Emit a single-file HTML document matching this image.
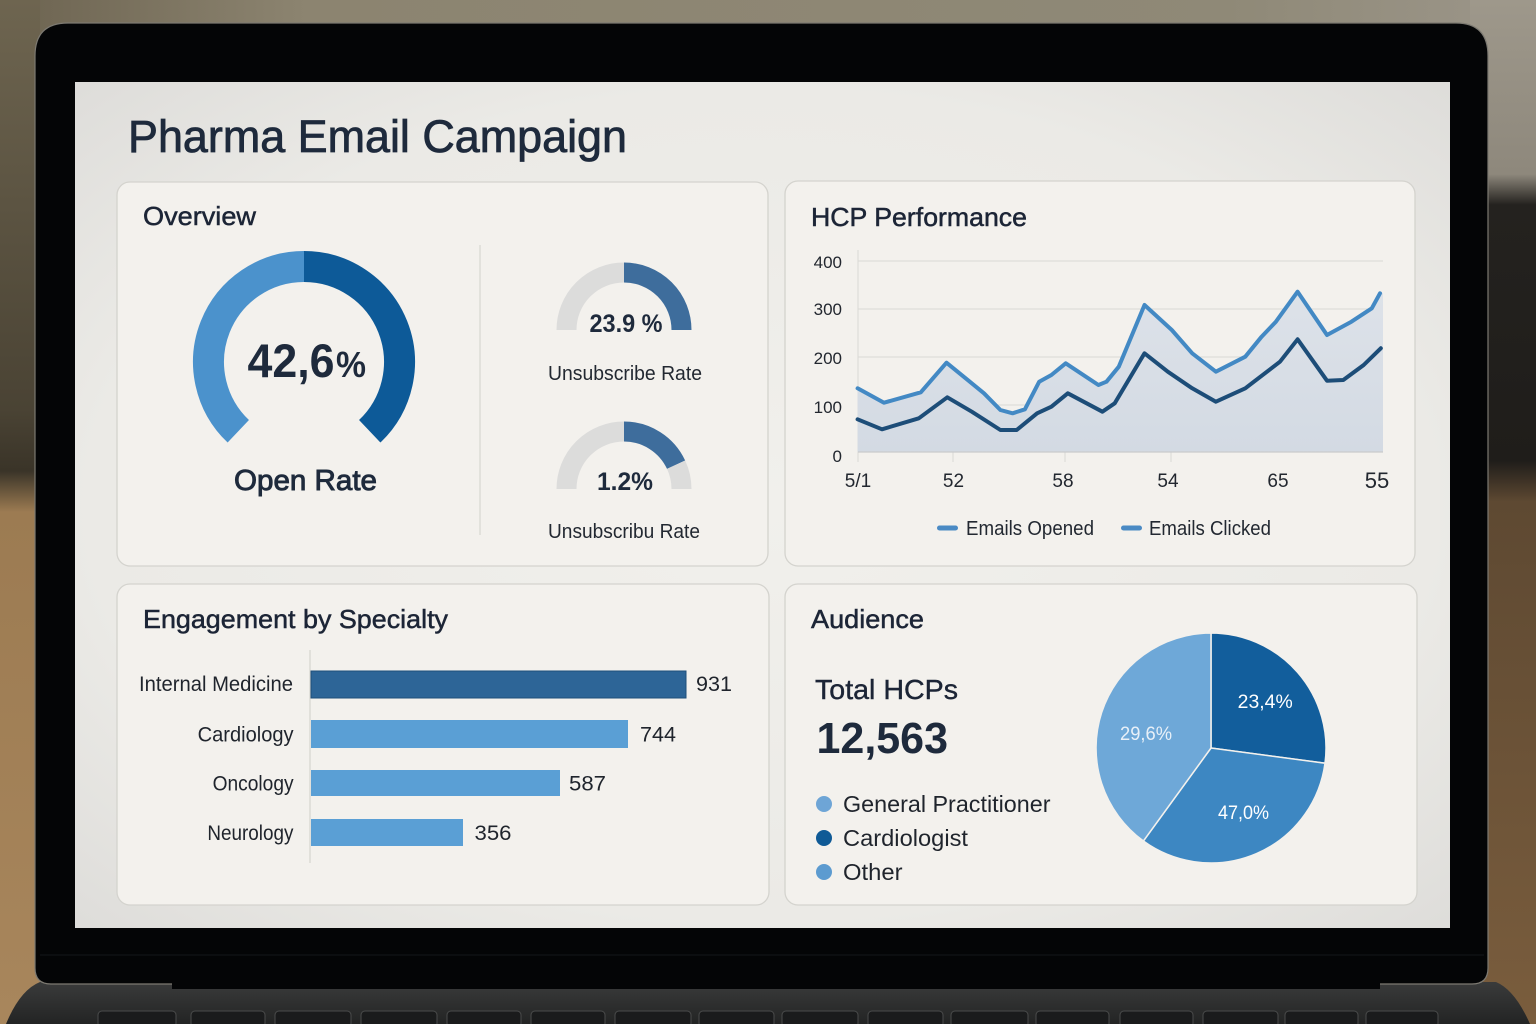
<!DOCTYPE html>
<html><head><meta charset="utf-8"><style>
html,body{margin:0;padding:0;width:1536px;height:1024px;overflow:hidden;background:#6f6650;}
svg{display:block;}
text{font-family:"Liberation Sans",Arial,sans-serif;}
</style></head><body>
<svg width="1536" height="1024" viewBox="0 0 1536 1024" xmlns="http://www.w3.org/2000/svg">
<defs>
<linearGradient id="bgL" x1="0" y1="0" x2="0" y2="1">
<stop offset="0" stop-color="#6e6550"/><stop offset="0.4" stop-color="#4a4334"/><stop offset="0.46" stop-color="#3a3428"/><stop offset="0.5" stop-color="#9c7b52"/><stop offset="1" stop-color="#a8865c"/></linearGradient>
<linearGradient id="bgR" x1="0" y1="0" x2="0" y2="1">
<stop offset="0" stop-color="#9e988b"/><stop offset="0.17" stop-color="#8e887c"/><stop offset="0.2" stop-color="#24221f"/><stop offset="0.45" stop-color="#1f1d1a"/><stop offset="0.49" stop-color="#5e4932"/><stop offset="1" stop-color="#7a5d3d"/></linearGradient>
<linearGradient id="bgT" x1="0" y1="0" x2="1" y2="0">
<stop offset="0" stop-color="#6c6350"/><stop offset="0.2" stop-color="#8c8470"/><stop offset="0.8" stop-color="#8f8977"/><stop offset="1" stop-color="#9c968a"/></linearGradient>
<radialGradient id="scr" cx="0.5" cy="0.5" r="0.7">
<stop offset="0" stop-color="#f1f0ec"/><stop offset="0.7" stop-color="#ebeae6"/><stop offset="1" stop-color="#dedddA"/></radialGradient>
<linearGradient id="area" x1="0" y1="0" x2="0" y2="1">
<stop offset="0" stop-color="#dde2e9"/><stop offset="1" stop-color="#d3dae3"/></linearGradient>
<linearGradient id="base" x1="0" y1="0" x2="0" y2="1">
<stop offset="0" stop-color="#3a3b3b"/><stop offset="1" stop-color="#232424"/></linearGradient>
</defs>

<!-- background -->
<rect x="0" y="0" width="1536" height="1024" fill="url(#bgL)"/>
<rect x="0" y="0" width="1536" height="60" fill="url(#bgT)"/>
<rect x="1470" y="0" width="66" height="1024" fill="url(#bgR)"/>
<rect x="0" y="0" width="40" height="1024" fill="url(#bgL)"/>

<!-- base -->
<path d="M40 982 L1496 982 Q1515 990 1530 1024 L6 1024 Q20 990 40 982 Z" fill="url(#base)"/>
<g fill="#1a1b1c" stroke="#4a4b4b" stroke-width="1">
<rect x="98" y="1011" width="78" height="16" rx="4"/>
<rect x="191" y="1011" width="74" height="16" rx="4"/>
<rect x="275" y="1011" width="76" height="16" rx="4"/>
<rect x="361" y="1011" width="76" height="16" rx="4"/>
<rect x="447" y="1011" width="74" height="16" rx="4"/>
<rect x="531" y="1011" width="74" height="16" rx="4"/>
<rect x="615" y="1011" width="76" height="16" rx="4"/>
<rect x="699" y="1011" width="75" height="16" rx="4"/>
<rect x="782" y="1011" width="76" height="16" rx="4"/>
<rect x="868" y="1011" width="75" height="16" rx="4"/>
<rect x="951" y="1011" width="77" height="16" rx="4"/>
<rect x="1036" y="1011" width="73" height="16" rx="4"/>
<rect x="1120" y="1011" width="73" height="16" rx="4"/>
<rect x="1203" y="1011" width="75" height="16" rx="4"/>
<rect x="1285" y="1011" width="73" height="16" rx="4"/>
<rect x="1366" y="1011" width="72" height="16" rx="4"/>
</g>

<!-- lid -->
<path d="M35 56 Q35 23 68 23 L1456 23 Q1488 23 1488 56 L1488 968 Q1488 984 1472 984 L51 984 Q35 984 35 968 Z" fill="#040506" stroke="#7d7a72" stroke-width="1.2"/>
<rect x="172" y="980" width="1208" height="9" fill="#040506"/>
<line x1="40" y1="955" x2="1484" y2="955" stroke="#15171a" stroke-width="1"/>

<!-- screen -->
<rect x="75" y="82" width="1375" height="846" fill="url(#scr)"/>

<!-- title -->
<text x="128" y="152" font-size="45" textLength="499" lengthAdjust="spacingAndGlyphs" fill="#1e2a3c" stroke="#1e2a3c" stroke-width="0.8">Pharma Email Campaign</text>

<!-- cards -->
<g fill="#f3f1ed" stroke="#d4d3ce" stroke-width="1.3">
<rect x="117" y="182" width="651" height="384" rx="13"/>
<rect x="785" y="181" width="630" height="385" rx="13"/>
<rect x="117" y="584" width="652" height="321" rx="13"/>
<rect x="785" y="584" width="632" height="321" rx="13"/>
</g>

<!-- Overview -->
<text x="143" y="225" font-size="26" textLength="113" lengthAdjust="spacingAndGlyphs" fill="#1c2536" stroke="#1c2536" stroke-width="0.5">Overview</text>
<path d="M238.3 431.3 A95.5 95.5 0 0 1 304 266.5" fill="none" stroke="#4b92cc" stroke-width="31"/>
<path d="M304 266.5 A95.5 95.5 0 0 1 369.7 431.3" fill="none" stroke="#0d5a98" stroke-width="31"/>
<text x="247.5" y="377" font-size="47" font-weight="bold" textLength="87" lengthAdjust="spacingAndGlyphs" fill="#1e2a3c">42,6</text>
<text x="336" y="377" font-size="36" font-weight="bold" textLength="30" lengthAdjust="spacingAndGlyphs" fill="#1e2a3c">%</text>
<text x="234" y="490" font-size="29" textLength="143" lengthAdjust="spacingAndGlyphs" fill="#1e2a3c" stroke="#1e2a3c" stroke-width="0.9">Open Rate</text>

<line x1="480" y1="245" x2="480" y2="535" stroke="#d8d7d2" stroke-width="1.2"/>

<path d="M566.5 330 A57.5 57.5 0 0 1 624 272.5" fill="none" stroke="#dcdcdb" stroke-width="20"/>
<path d="M624 272.5 A57.5 57.5 0 0 1 681.5 330" fill="none" stroke="#3e6d9c" stroke-width="20"/>
<text x="589.5" y="332" font-size="25" font-weight="bold" textLength="73" lengthAdjust="spacingAndGlyphs" fill="#1e2a3c">23.9 %</text>
<text x="548" y="380" font-size="20" textLength="154" lengthAdjust="spacingAndGlyphs" fill="#222831">Unsubscribe Rate</text>

<path d="M566.5 489 A57.5 57.5 0 0 1 624 431.5" fill="none" stroke="#dcdcdb" stroke-width="20"/>
<path d="M624 431.5 A57.5 57.5 0 0 1 676.1 464.7" fill="none" stroke="#3e6d9c" stroke-width="20"/>
<path d="M676.1 464.7 A57.5 57.5 0 0 1 681.5 489" fill="none" stroke="#dcdcdb" stroke-width="20"/>
<text x="597" y="490" font-size="25" font-weight="bold" textLength="56" lengthAdjust="spacingAndGlyphs" fill="#1e2a3c">1.2%</text>
<text x="548" y="538" font-size="20" textLength="152" lengthAdjust="spacingAndGlyphs" fill="#222831">Unsubscribu Rate</text>

<!-- HCP Performance -->
<text x="811" y="226" font-size="26" textLength="216" lengthAdjust="spacingAndGlyphs" fill="#1c2536" stroke="#1c2536" stroke-width="0.5">HCP Performance</text>
<g stroke="#d9d9d5" stroke-width="1">
<line x1="858" y1="261" x2="1383" y2="261"/>
<line x1="858" y1="309" x2="1383" y2="309"/>
<line x1="858" y1="357" x2="1383" y2="357"/>
<line x1="858" y1="405" x2="1383" y2="405"/>
<line x1="858" y1="250" x2="858" y2="462"/>
<line x1="953" y1="445" x2="953" y2="462"/>
<line x1="1065" y1="445" x2="1065" y2="462"/>
<line x1="1171" y1="445" x2="1171" y2="462"/>
</g>
<polygon fill="url(#area)" points="857.6,388.3 884,402.7 920.8,392.3 946.5,362.7 969.8,381.7 984,393.3 1000.4,410 1012.6,413.3 1024.9,409.3 1039.2,381.7 1051.4,375 1065.7,363.3 1098.4,385 1106.5,381.7 1118.8,366.7 1144.5,305 1171.8,330 1192.2,353.3 1215.9,371.7 1245.3,356.7 1261.6,336.7 1275.9,321.7 1297.6,291.7 1327,335 1351.4,321.7 1371.8,308.3 1380,293.3 1383,293.3 1383,452 857.6,452"/>
<line x1="858" y1="452" x2="1383" y2="452" stroke="#c9cbcc" stroke-width="1.2"/>
<polyline fill="none" stroke="#4389c4" stroke-width="4" stroke-linejoin="round" stroke-linecap="round" points="857.6,388.3 884,402.7 920.8,392.3 946.5,362.7 969.8,381.7 984,393.3 1000.4,410 1012.6,413.3 1024.9,409.3 1039.2,381.7 1051.4,375 1065.7,363.3 1098.4,385 1106.5,381.7 1118.8,366.7 1144.5,305 1171.8,330 1192.2,353.3 1215.9,371.7 1245.3,356.7 1261.6,336.7 1275.9,321.7 1297.6,291.7 1327,335 1351.4,321.7 1371.8,308.3 1380,293.3"/>
<polyline fill="none" stroke="#1d4d78" stroke-width="4" stroke-linejoin="round" stroke-linecap="round" points="857.6,419.3 882,429.3 918.8,418.3 947.3,397.3 971.8,411.7 1000.4,430 1016.7,430 1037.1,413.3 1051.4,406.7 1067.8,393.3 1102.4,411.7 1114.7,403.3 1144.5,353.3 1167.8,371.7 1192.2,388.3 1215.9,401.7 1245.3,388.3 1280,361.7 1297.6,339.3 1327,380.7 1343.3,380 1363.7,365 1380.8,348.3"/>
<g font-size="17" fill="#22272f" text-anchor="end">
<text x="842" y="268">400</text>
<text x="842" y="315">300</text>
<text x="842" y="364">200</text>
<text x="842" y="413">100</text>
<text x="842" y="462">0</text>
</g>
<g font-size="19" fill="#22272f" text-anchor="middle">
<text x="858" y="487">5/1</text>
<text x="953.5" y="487">52</text>
<text x="1063" y="487">58</text>
<text x="1168" y="487">54</text>
<text x="1278" y="487">65</text>
<text x="1377" y="488" font-size="22">55</text>
</g>
<rect x="937" y="525.5" width="21" height="5" rx="2.5" fill="#4a8ac4"/>
<text x="966" y="535" font-size="20" textLength="128" lengthAdjust="spacingAndGlyphs" fill="#222831">Emails Opened</text>
<rect x="1121" y="525.5" width="21" height="5" rx="2.5" fill="#4a8ac4"/>
<text x="1149" y="535" font-size="20" textLength="122" lengthAdjust="spacingAndGlyphs" fill="#222831">Emails Clicked</text>

<!-- Engagement -->
<text x="143" y="628" font-size="26" textLength="305" lengthAdjust="spacingAndGlyphs" fill="#1c2536" stroke="#1c2536" stroke-width="0.5">Engagement by Specialty</text>
<line x1="310" y1="650" x2="310" y2="863" stroke="#d5d4cf" stroke-width="1.2"/>
<rect x="311" y="671" width="375" height="27" fill="#2d6597" stroke="#1e4e7a" stroke-width="1"/>
<rect x="311" y="720" width="317" height="28" fill="#5a9fd5"/>
<rect x="311" y="770" width="249" height="26" fill="#5a9fd5"/>
<rect x="311" y="819" width="152" height="27" fill="#5a9fd5"/>
<g font-size="21" fill="#1f242c">
<text x="139" y="691" textLength="154" lengthAdjust="spacingAndGlyphs">Internal Medicine</text>
<text x="197.6" y="741.5" textLength="96" lengthAdjust="spacingAndGlyphs">Cardiology</text>
<text x="212.6" y="790.5" textLength="81" lengthAdjust="spacingAndGlyphs">Oncology</text>
<text x="207.4" y="840" textLength="86" lengthAdjust="spacingAndGlyphs">Neurology</text>
<text x="696" y="691" textLength="36" lengthAdjust="spacingAndGlyphs">931</text>
<text x="640" y="741.5" textLength="36" lengthAdjust="spacingAndGlyphs">744</text>
<text x="569" y="790.5" textLength="37" lengthAdjust="spacingAndGlyphs">587</text>
<text x="474.5" y="840" textLength="37" lengthAdjust="spacingAndGlyphs">356</text>
</g>

<!-- Audience -->
<text x="811" y="628" font-size="26" textLength="113" lengthAdjust="spacingAndGlyphs" fill="#1c2536" stroke="#1c2536" stroke-width="0.5">Audience</text>
<text x="815" y="699" font-size="28" textLength="143" lengthAdjust="spacingAndGlyphs" fill="#1c2536" stroke="#1c2536" stroke-width="0.4">Total HCPs</text>
<text x="816.5" y="753" font-size="44" font-weight="bold" textLength="131.5" lengthAdjust="spacingAndGlyphs" fill="#1e2a3c">12,563</text>
<circle cx="824" cy="804" r="8" fill="#6ea5d6"/>
<circle cx="824" cy="838" r="8" fill="#0f5a96"/>
<circle cx="824" cy="872" r="8" fill="#5c9bd0"/>
<g font-size="23" fill="#1f242c">
<text x="843" y="812" textLength="207.5" lengthAdjust="spacingAndGlyphs">General Practitioner</text>
<text x="843" y="846" textLength="125" lengthAdjust="spacingAndGlyphs">Cardiologist</text>
<text x="843" y="880" textLength="59.5" lengthAdjust="spacingAndGlyphs">Other</text>
</g>
<g stroke="#f3f1ed" stroke-width="1.5">
<path d="M1211 748 L1211 633 A115 115 0 0 1 1325 763.2 Z" fill="#125e9c"/>
<path d="M1211 748 L1325 763.2 A115 115 0 0 1 1143.4 841 Z" fill="#3d87c2"/>
<path d="M1211 748 L1143.4 841 A115 115 0 0 1 1211 633 Z" fill="#6ea8d8"/>
</g>
<g font-size="19">
<text x="1237.7" y="708" textLength="55" lengthAdjust="spacingAndGlyphs" fill="#ffffff">23,4%</text>
<text x="1120" y="740" textLength="52" lengthAdjust="spacingAndGlyphs" fill="#e8f0f8">29,6%</text>
<text x="1218" y="819" textLength="51" lengthAdjust="spacingAndGlyphs" fill="#ffffff">47,0%</text>
</g>
</svg>
</body></html>
